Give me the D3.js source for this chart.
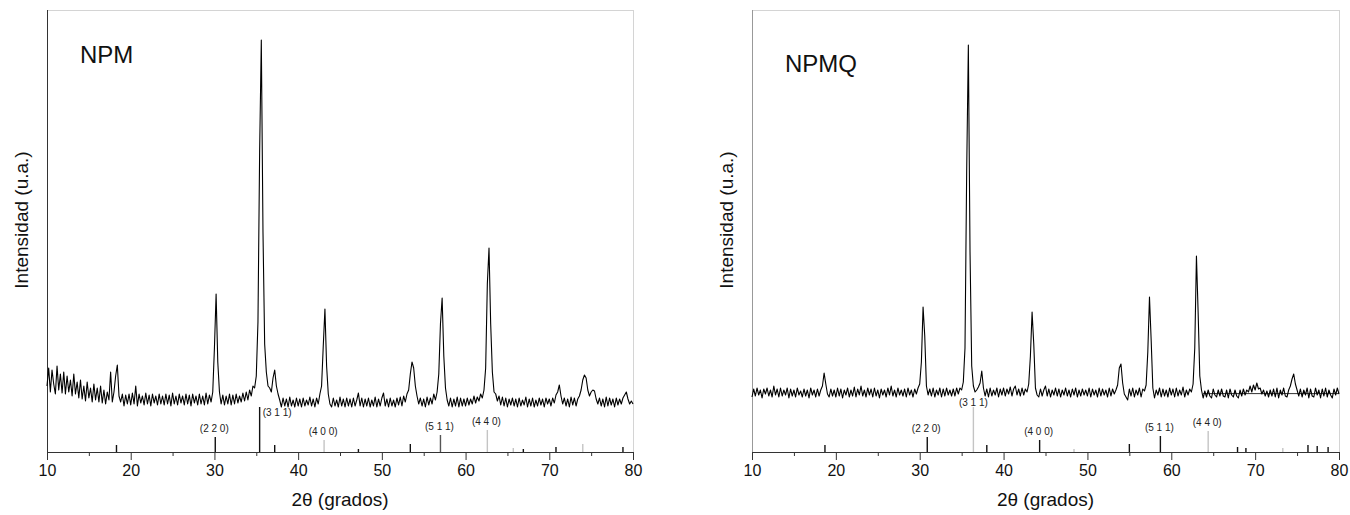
<!DOCTYPE html>
<html lang="es">
<head>
<meta charset="utf-8">
<script src="https://cdn.jsdelivr.net/npm/d3@7/dist/d3.min.js"></script>
<style>
    body { margin: 0; background: #fff; }
    svg { display: block; font-family: 'Liberation Sans', Arial, sans-serif; }
</style>
</head>
<body>
<div id="viz"></div>
<script>
// Barrido de 2θ: de 10 a 80 grados, un dato cada 0.2 grados
let inicio2Theta = 10;
let paso2Theta = 0.2;

// Intensidad leída del difractograma NPM (cuentas aproximadas), una fila = 2 grados
let intensidadNPM = [
    330, 420, 300, 410, 340, 290, 430, 310, 390, 295,
    400, 290, 380, 300, 360, 280, 390, 290, 350, 270,
    360, 265, 330, 255, 350, 270, 320, 250, 340, 260,
    320, 250, 330, 245, 310, 240, 300, 260, 400, 250,
    300, 380, 435, 280, 250, 290, 230, 285, 240, 290,
    235, 295, 240, 330, 230, 290, 245, 280, 235, 295,
    240, 285, 230, 290, 245, 280, 235, 290, 240, 280,
    235, 290, 240, 285, 230, 295, 240, 280, 235, 290,
    245, 280, 235, 290, 240, 285, 230, 290, 245, 280,
    235, 290, 240, 280, 235, 295, 240, 285, 250, 300,
    520, 790, 450, 300, 240, 285, 235, 280, 240, 290,
    235, 285, 240, 290, 245, 280, 250, 295, 255, 300,
    260, 310, 280, 330, 320, 380, 650, 1500, 2060, 1100,
    540, 400, 330, 320, 300, 370, 410, 330, 290, 260,
    225, 270, 230, 265, 225, 275, 230, 260, 225, 270,
    230, 265, 225, 270, 230, 260, 235, 275, 230, 265,
    225, 270, 240, 290, 330, 530, 715, 430, 290, 240,
    225, 270, 230, 260, 225, 275, 230, 265, 225, 270,
    230, 265, 225, 270, 230, 260, 295, 230, 270, 225,
    265, 230, 270, 225, 260, 230, 275, 225, 265, 230,
    270, 295, 230, 265, 225, 270, 230, 260, 225, 270,
    235, 275, 230, 280, 250, 290, 310, 390, 450, 420,
    330, 280, 240, 270, 230, 265, 225, 275, 235, 270,
    240, 290, 260, 300, 390, 640, 770, 480, 320, 260,
    230, 270, 225, 265, 230, 275, 225, 270, 230, 265,
    230, 270, 235, 265, 240, 280, 245, 275, 255, 290,
    270, 310, 420, 840, 1020, 640, 400, 300, 290, 255,
    280, 235, 275, 230, 270, 225, 265, 235, 270, 230,
    265, 225, 270, 230, 260, 235, 275, 225, 265, 230,
    270, 225, 260, 230, 270, 235, 265, 225, 270, 240,
    265, 230, 270, 245, 285, 300, 335, 280, 240, 270,
    230, 265, 225, 275, 235, 270, 230, 265, 280, 310,
    360, 385, 370, 310, 280, 300, 310, 305, 265, 240,
    270, 230, 265, 225, 275, 230, 270, 235, 265, 225,
    270, 235, 265, 240, 270, 285, 300, 265, 240, 255,
    240
];

let intensidadNPMQ = [
    275, 315, 280, 320, 285, 310, 270, 315, 290, 320,
    280, 310, 275, 330, 285, 315, 275, 320, 280, 310,
    285, 320, 270, 315, 280, 310, 275, 320, 285, 305,
    275, 315, 280, 310, 270, 320, 285, 310, 275, 315,
    280, 310, 330, 395, 340, 290, 275, 315, 280, 310,
    275, 320, 280, 315, 270, 310, 285, 320, 275, 310,
    280, 325, 275, 315, 285, 330, 280, 310, 275, 320,
    285, 315, 275, 320, 280, 310, 270, 315, 285, 310,
    275, 320, 285, 330, 280, 310, 275, 320, 285, 310,
    280, 315, 275, 320, 285, 310, 275, 315, 290, 320,
    340, 450, 725, 580, 330, 285, 315, 280, 320, 275,
    310, 285, 320, 275, 315, 280, 320, 285, 310, 280,
    315, 280, 320, 290, 320, 310, 350, 520, 1400, 2035,
    1000, 430, 330, 300, 310, 325, 345, 405, 320, 280,
    315, 275, 320, 280, 310, 285, 320, 275, 315, 285,
    320, 280, 315, 290, 325, 280, 315, 330, 285, 315,
    280, 320, 285, 315, 300, 340, 480, 700, 540, 320,
    285, 275, 315, 280, 310, 330, 280, 315, 275, 310,
    285, 320, 280, 315, 275, 310, 285, 320, 280, 310,
    275, 315, 285, 320, 275, 310, 280, 315, 285, 310,
    280, 320, 275, 315, 285, 310, 275, 320, 280, 315,
    285, 310, 275, 320, 280, 315, 290, 310, 335, 420,
    440, 345, 290, 275, 260, 315, 280, 320, 275, 310,
    285, 320, 275, 315, 305, 335, 500, 775, 560, 320,
    270, 310, 285, 320, 275, 315, 280, 310, 275, 320,
    285, 315, 275, 320, 280, 310, 285, 325, 275, 310,
    285, 315, 300, 340, 520, 980, 700, 380, 310, 270,
    305, 275, 310, 280, 270, 315, 285, 275, 310, 280,
    315, 280, 275, 310, 270, 315, 285, 275, 310, 280,
    270, 310, 280, 315, 285, 310, 300, 330, 300, 335,
    310, 345, 315, 320, 290, 310, 280, 305, 275, 310,
    280, 315, 275, 320, 270, 310, 285, 320, 280, 275,
    310, 330, 365, 390, 340, 310, 280, 315, 275, 310,
    285, 320, 270, 315, 280, 275, 320, 285, 310, 270,
    315, 280, 320, 275, 310, 285, 270, 315, 285, 320,
    290
];

// Línea de fondo que se ve en NPMQ (2θ, cuentas)
let fondoNPMQ = [[63.8, 292], [80, 292]];

// Patrón de referencia (barras del fondo): posición 2θ, altura relativa y plano
let barras2ThetaNPM = [18.3, 30.1, 35.4, 37.2, 43.1, 47.2, 53.4, 57.0, 62.6, 65.7, 66.9, 70.8, 74.0, 78.8];
let barrasAlturaNPM = [35, 75, 225, 35, 60, 15, 40, 85, 110, 20, 15, 25, 40, 25];
let barrasPlanoNPM  = ['', '(2 2 0)', '(3 1 1)', '', '(4 0 0)', '', '', '(5 1 1)', '(4 4 0)', '', '', '', '', ''];

let barras2ThetaNPMQ = [18.7, 30.9, 36.4, 38.0, 44.3, 48.4, 55.0, 58.7, 64.4, 67.9, 68.9, 73.3, 76.3, 77.4, 78.7];
let barrasAlturaNPMQ = [35, 75, 225, 35, 60, 15, 40, 80, 105, 25, 20, 20, 35, 30, 25];
let barrasPlanoNPMQ  = ['', '(2 2 0)', '(3 1 1)', '', '(4 0 0)', '', '', '(5 1 1)', '(4 4 0)', '', '', '', '', '', ''];

let ticksMayores = [10, 20, 30, 40, 50, 60, 70, 80];
let ticksMenores = [15, 25, 35, 45, 55, 65, 75];

// Dimensiones
let w = 1350;
let h = 515;
let yTop = 10;
let yBase = 452;

let svg = d3.select('#viz')
    .append('svg')
        .attr('width', w)
        .attr('height', h);

// Misma escala de intensidad para los dos paneles
let y = d3.scaleLinear()
    .domain([0, 2210])
    .range([yBase, yTop]);

let paneles = [
    {
        nombre: 'NPM', intensidad: intensidadNPM, fondo: null,
        pos: barras2ThetaNPM, alto: barrasAlturaNPM, plano: barrasPlanoNPM,
        claras: [43.1, 62.6, 74.0, 65.7], medias: [57.0],
        x0: 47, x1: 633, colorEjeY: '#333', yNombre: 63, yLabelX: 28, lado311: 'derecha'
    },
    {
        nombre: 'NPMQ', intensidad: intensidadNPMQ, fondo: fondoNPMQ,
        pos: barras2ThetaNPMQ, alto: barrasAlturaNPMQ, plano: barrasPlanoNPMQ,
        claras: [36.4, 64.4, 48.4, 73.3], medias: [],
        x0: 752, x1: 1339, colorEjeY: '#999', yNombre: 72, yLabelX: 733, lado311: 'arriba'
    }
];

paneles.forEach(dibujarPanel);

function dibujarPanel(p) {
    let x = d3.scaleLinear()
        .domain([10, 80])
        .range([p.x0, p.x1]);

    let g = svg.append('g');

    // Marco: arriba y derecha en gris claro
    g.append('line')
        .attr('x1', p.x0).attr('x2', p.x1)
        .attr('y1', yTop + 0.5).attr('y2', yTop + 0.5)
        .attr('stroke', '#d4d4d4');
    g.append('line')
        .attr('x1', p.x1 + 0.5).attr('x2', p.x1 + 0.5)
        .attr('y1', yTop).attr('y2', yBase)
        .attr('stroke', '#d4d4d4');

    // Eje Y (sin ticks)
    g.append('line')
        .attr('x1', p.x0 + 0.5).attr('x2', p.x0 + 0.5)
        .attr('y1', yTop).attr('y2', yBase)
        .attr('stroke', p.colorEjeY);

    // Barras del patrón de referencia
    p.pos.forEach(function(t, i) {
        let color = '#111';
        if (p.claras.includes(t)) color = '#c4c4c4';
        if (p.medias.includes(t)) color = '#555';
        g.append('line')
            .attr('x1', x(t)).attr('x2', x(t))
            .attr('y1', y(0)).attr('y2', y(p.alto[i]))
            .attr('stroke', color)
            .attr('stroke-width', 1.4);

        if (p.plano[i] == '') return;
        let etiqueta = g.append('text')
            .attr('font-size', '10px')
            .attr('fill', '#222')
            .text(p.plano[i]);
        if (p.plano[i] == '(3 1 1)' && p.lado311 == 'derecha') {
            etiqueta.attr('x', x(t) + 3).attr('y', y(p.alto[i]) + 9).attr('text-anchor', 'start');
        } else if (p.plano[i] == '(3 1 1)') {
            etiqueta.attr('x', x(t)).attr('y', y(p.alto[i]) - 1).attr('text-anchor', 'middle');
        } else {
            etiqueta.attr('x', x(t) - 1).attr('y', y(p.alto[i]) - 5).attr('text-anchor', 'middle');
        }
    });

    // Eje X: ticks mayores con números y menores sin ellos
    let ejeX = g.append('g')
        .attr('transform', `translate(0,${yBase})`)
        .call(d3.axisBottom(x).tickValues(ticksMayores).tickSize(8).tickSizeOuter(0).tickPadding(5));
    ejeX.select('.domain').attr('stroke', '#333');
    ejeX.selectAll('.tick line').attr('stroke', '#333');
    ejeX.selectAll('.tick text')
        .attr('font-size', '16px')
        .attr('font-family', "'Liberation Sans', Arial, sans-serif")
        .attr('fill', '#111');

    g.append('g')
        .attr('transform', `translate(0,${yBase})`)
        .call(d3.axisBottom(x).tickValues(ticksMenores).tickSize(4).tickFormat(''))
        .call(gg => gg.select('.domain').remove())
        .selectAll('.tick line').attr('stroke', '#333');

    // Difractograma
    let linea = d3.line()
        .x(function(d, i) { return x(inicio2Theta + i * paso2Theta); })
        .y(function(d) { return y(d); });

    if (p.fondo) {
        g.append('path')
            .datum(p.fondo)
            .attr('fill', 'none')
            .attr('stroke', '#333')
            .attr('stroke-width', 1)
            .attr('d', d3.line().x(d => x(d[0])).y(d => y(d[1])));
    }

    g.append('path')
        .datum(p.intensidad)
        .attr('fill', 'none')
        .attr('stroke', '#000')
        .attr('stroke-width', 1.1)
        .attr('stroke-linejoin', 'round')
        .attr('d', linea);

    // Nombre de la muestra
    g.append('text')
        .attr('x', p.x0 + 33)
        .attr('y', p.yNombre)
        .attr('font-size', '24px')
        .attr('fill', '#111')
        .text(p.nombre);

    // Títulos de los ejes
    g.append('text')
        .attr('x', (p.x0 + p.x1) / 2)
        .attr('y', 506)
        .attr('text-anchor', 'middle')
        .attr('font-size', '19px')
        .attr('fill', '#111')
        .text('2θ (grados)');

    g.append('text')
        .attr('transform', `translate(${p.yLabelX},220) rotate(-90)`)
        .attr('text-anchor', 'middle')
        .attr('font-size', '19px')
        .attr('fill', '#111')
        .text('Intensidad (u.a.)');
}
</script>
</body>
</html>
